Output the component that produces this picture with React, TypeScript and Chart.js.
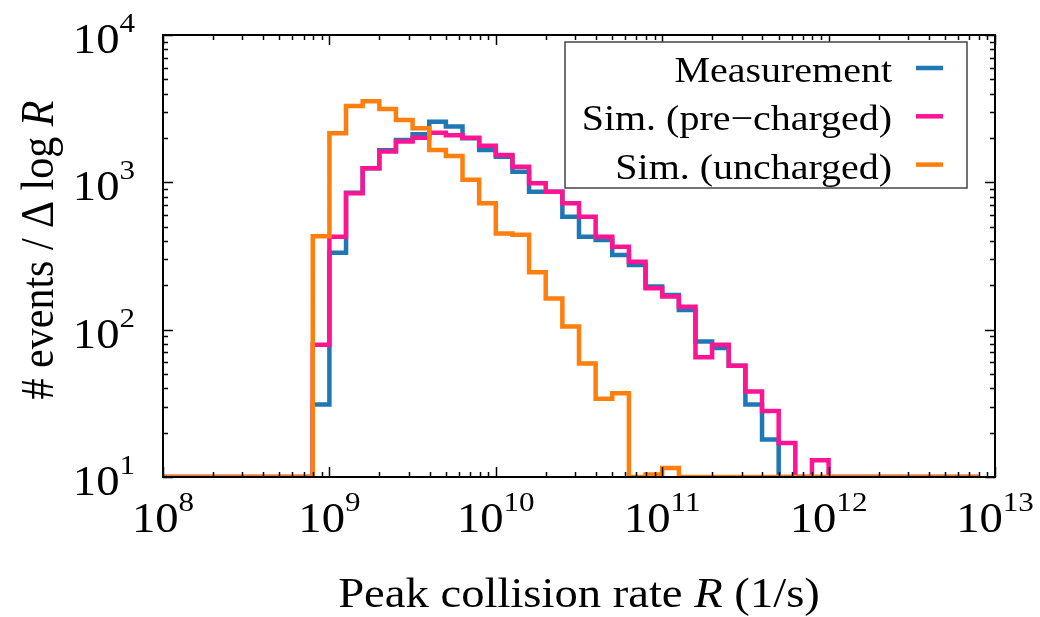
import { useEffect, useRef } from 'react';
import { Chart, registerables } from 'chart.js';

Chart.register(...registerables);

// ---- data ----
const binLowerEdgesLog10 = [
  8.0, 8.1, 8.2, 8.3, 8.4, 8.5, 8.6, 8.7, 8.8, 8.9,
  9.0, 9.1, 9.2, 9.3, 9.4, 9.5, 9.6, 9.7, 9.8, 9.9,
  10.0, 10.1, 10.2, 10.3, 10.4, 10.5, 10.6, 10.7, 10.8, 10.9,
  11.0, 11.1, 11.2, 11.3, 11.4, 11.5, 11.6, 11.7, 11.8, 11.9,
  12.0, 12.1, 12.2, 12.3, 12.4, 12.5, 12.6, 12.7, 12.8,
];
const lastBinUpperEdgeLog10 = 12.9;

const measurement = [
  0, 0, 0, 0, 0, 0, 0, 0, 0, 31,
  333, 850, 1245, 1650, 1940, 2120, 2580, 2390, 1990, 1660,
  1490, 1180, 863, 863, 585, 428, 406, 321, 275, 196,
  172, 136, 83, 75, 57, 31, 18, 0, 0, 0,
  0, 0, 0, 0, 0, 0, 0, 0, 0,
];
const simPreCharged = [
  0, 0, 0, 0, 0, 0, 0, 0, 0, 79,
  428, 843, 1245, 1616, 1890, 2010, 2170, 2090, 2010, 1770,
  1535, 1277, 984, 863, 720, 585, 428, 366, 289, 191,
  168, 143, 65, 79, 57, 38, 28, 17, 0, 13,
  0, 0, 0, 0, 0, 0, 0, 0, 0,
];
const simUncharged = [
  0, 0, 0, 0, 0, 0, 0, 0, 0, 430,
  2150, 3300, 3550, 3150, 2650, 2330, 1660, 1510, 1040, 720,
  450, 440, 245, 163, 105, 59, 34, 37, 0, 10.4,
  11.5, 0, 0, 0, 0, 0, 0, 0, 0, 0,
  0, 0, 0, 0, 0, 0, 0, 0, 0,
];

const seriesLabels = ['Measurement', 'Sim. (pre\u2212charged)', 'Sim. (uncharged)'];
const seriesColors = ['#1f77b4', '#ff1493', '#ff7f0e'];

const xDecadeExponents = [8, 9, 10, 11, 12, 13];
const yDecadeExponents = [1, 2, 3, 4];
const xAxisTitleParts = ['Peak collision rate ', 'R', ' (1/s)'];
const yAxisTitleParts = ['# events / \u0394 log ', 'R'];

const X_MIN = 1e8;
const X_MAX = 1e13;
const Y_MIN = 10;
const Y_MAX = 1e4;

const FONT = '"Liberation Serif", "Times New Roman", serif';
const SX = 1.11; // horizontal stretch of the text as in the reference

function toStepPoints(values: number[]) {
  const pts = binLowerEdgesLog10.map((e, i) => ({
    x: Math.pow(10, e),
    y: values[i] > 0 ? values[i] : Y_MIN,
  }));
  pts.push({ x: Math.pow(10, lastBinUpperEdgeLog10), y: pts[pts.length - 1].y });
  return pts;
}

const decorPlugin = {
  id: 'gnuplotDecor',
  afterDatasetsDraw(chart: any) {
    const { ctx, chartArea: a, scales } = chart;
    const xs = scales.x;
    const ys = scales.y;
    ctx.save();

    const tw = (t: string, font: string) => {
      ctx.font = font;
      return ctx.measureText(t).width * SX;
    };
    const put = (t: string, font: string, x: number, y: number) => {
      ctx.save();
      ctx.font = font;
      ctx.textAlign = 'left';
      ctx.textBaseline = 'alphabetic';
      ctx.translate(x, y);
      ctx.scale(SX, 1);
      ctx.fillText(t, 0, 0);
      ctx.restore();
    };

    // ticks (inward, mirrored)
    ctx.strokeStyle = '#000';
    ctx.lineWidth = 1.5;
    const MAJ = 10;
    const MIN = 5;
    ctx.beginPath();
    xDecadeExponents.forEach((n, idx) => {
      const ks = idx === xDecadeExponents.length - 1 ? [1] : [1, 2, 3, 4, 5, 6, 7, 8, 9];
      ks.forEach((k) => {
        const px = Math.round(xs.getPixelForValue(k * Math.pow(10, n))) + 0.5;
        const len = k === 1 ? MAJ : MIN;
        ctx.moveTo(px, a.bottom);
        ctx.lineTo(px, a.bottom - len);
        ctx.moveTo(px, a.top);
        ctx.lineTo(px, a.top + len);
      });
    });
    yDecadeExponents.forEach((n, idx) => {
      const ks = idx === yDecadeExponents.length - 1 ? [1] : [1, 2, 3, 4, 5, 6, 7, 8, 9];
      ks.forEach((k) => {
        const py = Math.round(ys.getPixelForValue(k * Math.pow(10, n))) + 0.5;
        const len = k === 1 ? MAJ : MIN;
        ctx.moveTo(a.left, py);
        ctx.lineTo(a.left + len, py);
        ctx.moveTo(a.right, py);
        ctx.lineTo(a.right - len, py);
      });
    });
    ctx.stroke();

    // frame
    ctx.lineWidth = 2;
    ctx.strokeRect(a.left, a.top, a.right - a.left, a.bottom - a.top);

    // tick labels
    ctx.fillStyle = '#000';
    const baseFont = `42px ${FONT}`;
    const expFont = `28px ${FONT}`;
    const powWidth = (n: number) => tw('10', baseFont) + tw(String(n), expFont);
    const drawPow = (n: number, x0: number, baseY: number) => {
      put('10', baseFont, x0, baseY);
      put(String(n), expFont, x0 + tw('10', baseFont), baseY - 21);
    };
    xDecadeExponents.forEach((n) => {
      const px = xs.getPixelForValue(Math.pow(10, n));
      drawPow(n, px - powWidth(n) / 2, a.bottom + 55);
    });
    yDecadeExponents.forEach((n) => {
      const py = ys.getPixelForValue(Math.pow(10, n));
      drawPow(n, a.left - 28 - powWidth(n), py + 18);
    });

    // axis titles
    const titleFont = `42px ${FONT}`;
    const titleItalic = `italic 42px ${FONT}`;
    {
      const widths = xAxisTitleParts.map((p, i) => tw(p, i === 1 ? titleItalic : titleFont));
      const total = widths.reduce((s, w) => s + w, 0);
      let x = (a.left + a.right) / 2 - total / 2;
      xAxisTitleParts.forEach((p, i) => {
        put(p, i === 1 ? titleItalic : titleFont, x, 607);
        x += widths[i];
      });
    }
    {
      ctx.save();
      ctx.translate(53, (a.top + a.bottom) / 2 - 6);
      ctx.rotate(-Math.PI / 2);
      ctx.scale(1, SX);
      ctx.textAlign = 'left';
      ctx.textBaseline = 'alphabetic';
      const widths = yAxisTitleParts.map((p, i) => {
        ctx.font = i === 1 ? titleItalic : titleFont;
        return ctx.measureText(p).width;
      });
      const total = widths.reduce((s, w) => s + w, 0);
      let x = -total / 2;
      yAxisTitleParts.forEach((p, i) => {
        ctx.font = i === 1 ? titleItalic : titleFont;
        ctx.fillText(p, x, 0);
        x += widths[i];
      });
      ctx.restore();
    }

    // legend
    const boxL = 565, boxT = 42, boxR = 967, boxB = 188;
    ctx.fillStyle = '#fff';
    ctx.fillRect(boxL, boxT, boxR - boxL, boxB - boxT);
    ctx.strokeStyle = '#444';
    ctx.lineWidth = 1.5;
    ctx.strokeRect(boxL, boxT, boxR - boxL, boxB - boxT);
    ctx.fillStyle = '#000';
    const legendFont = `36px ${FONT}`;
    seriesLabels.forEach((label, i) => {
      const baseY = 82 + i * 48.3;
      put(label, legendFont, 892 - tw(label, legendFont), baseY);
      ctx.strokeStyle = seriesColors[i];
      ctx.lineWidth = 4.5;
      ctx.beginPath();
      ctx.moveTo(916, baseY - 14);
      ctx.lineTo(943, baseY - 14);
      ctx.stroke();
    });

    ctx.restore();
  },
};

export default function App() {
  const canvasRef = useRef<HTMLCanvasElement | null>(null);

  useEffect(() => {
    const canvas = canvasRef.current;
    if (!canvas) return;
    const seriesValues = [measurement, simPreCharged, simUncharged];
    const drawOrder = [2, 1, 0];
    const chart = new Chart(canvas, {
      type: 'line',
      data: {
        datasets: seriesValues.map((vals, i) => ({
          label: seriesLabels[i],
          data: toStepPoints(vals),
          borderColor: seriesColors[i],
          backgroundColor: seriesColors[i],
          borderWidth: 4.5,
          pointRadius: 0,
          stepped: 'before' as const,
          fill: false,
          order: drawOrder[i],
          borderJoinStyle: 'miter' as const,
          borderCapStyle: 'butt' as const,
        })),
      },
      options: {
        animation: false,
        responsive: false,
        events: [],
        layout: { padding: { left: 163, right: 45, top: 35, bottom: 140 } },
        scales: {
          x: { type: 'logarithmic', min: X_MIN, max: X_MAX, display: false },
          y: { type: 'logarithmic', min: Y_MIN, max: Y_MAX, display: false },
        },
        plugins: {
          legend: { display: false },
          tooltip: { enabled: false },
        },
      },
      plugins: [decorPlugin],
    });
    return () => chart.destroy();
  }, []);

  return (
    <div style={{ position: 'absolute', left: 0, top: 0, width: 1040, height: 617, background: '#fff' }}>
      <canvas ref={canvasRef} width={1040} height={617} />
    </div>
  );
}
